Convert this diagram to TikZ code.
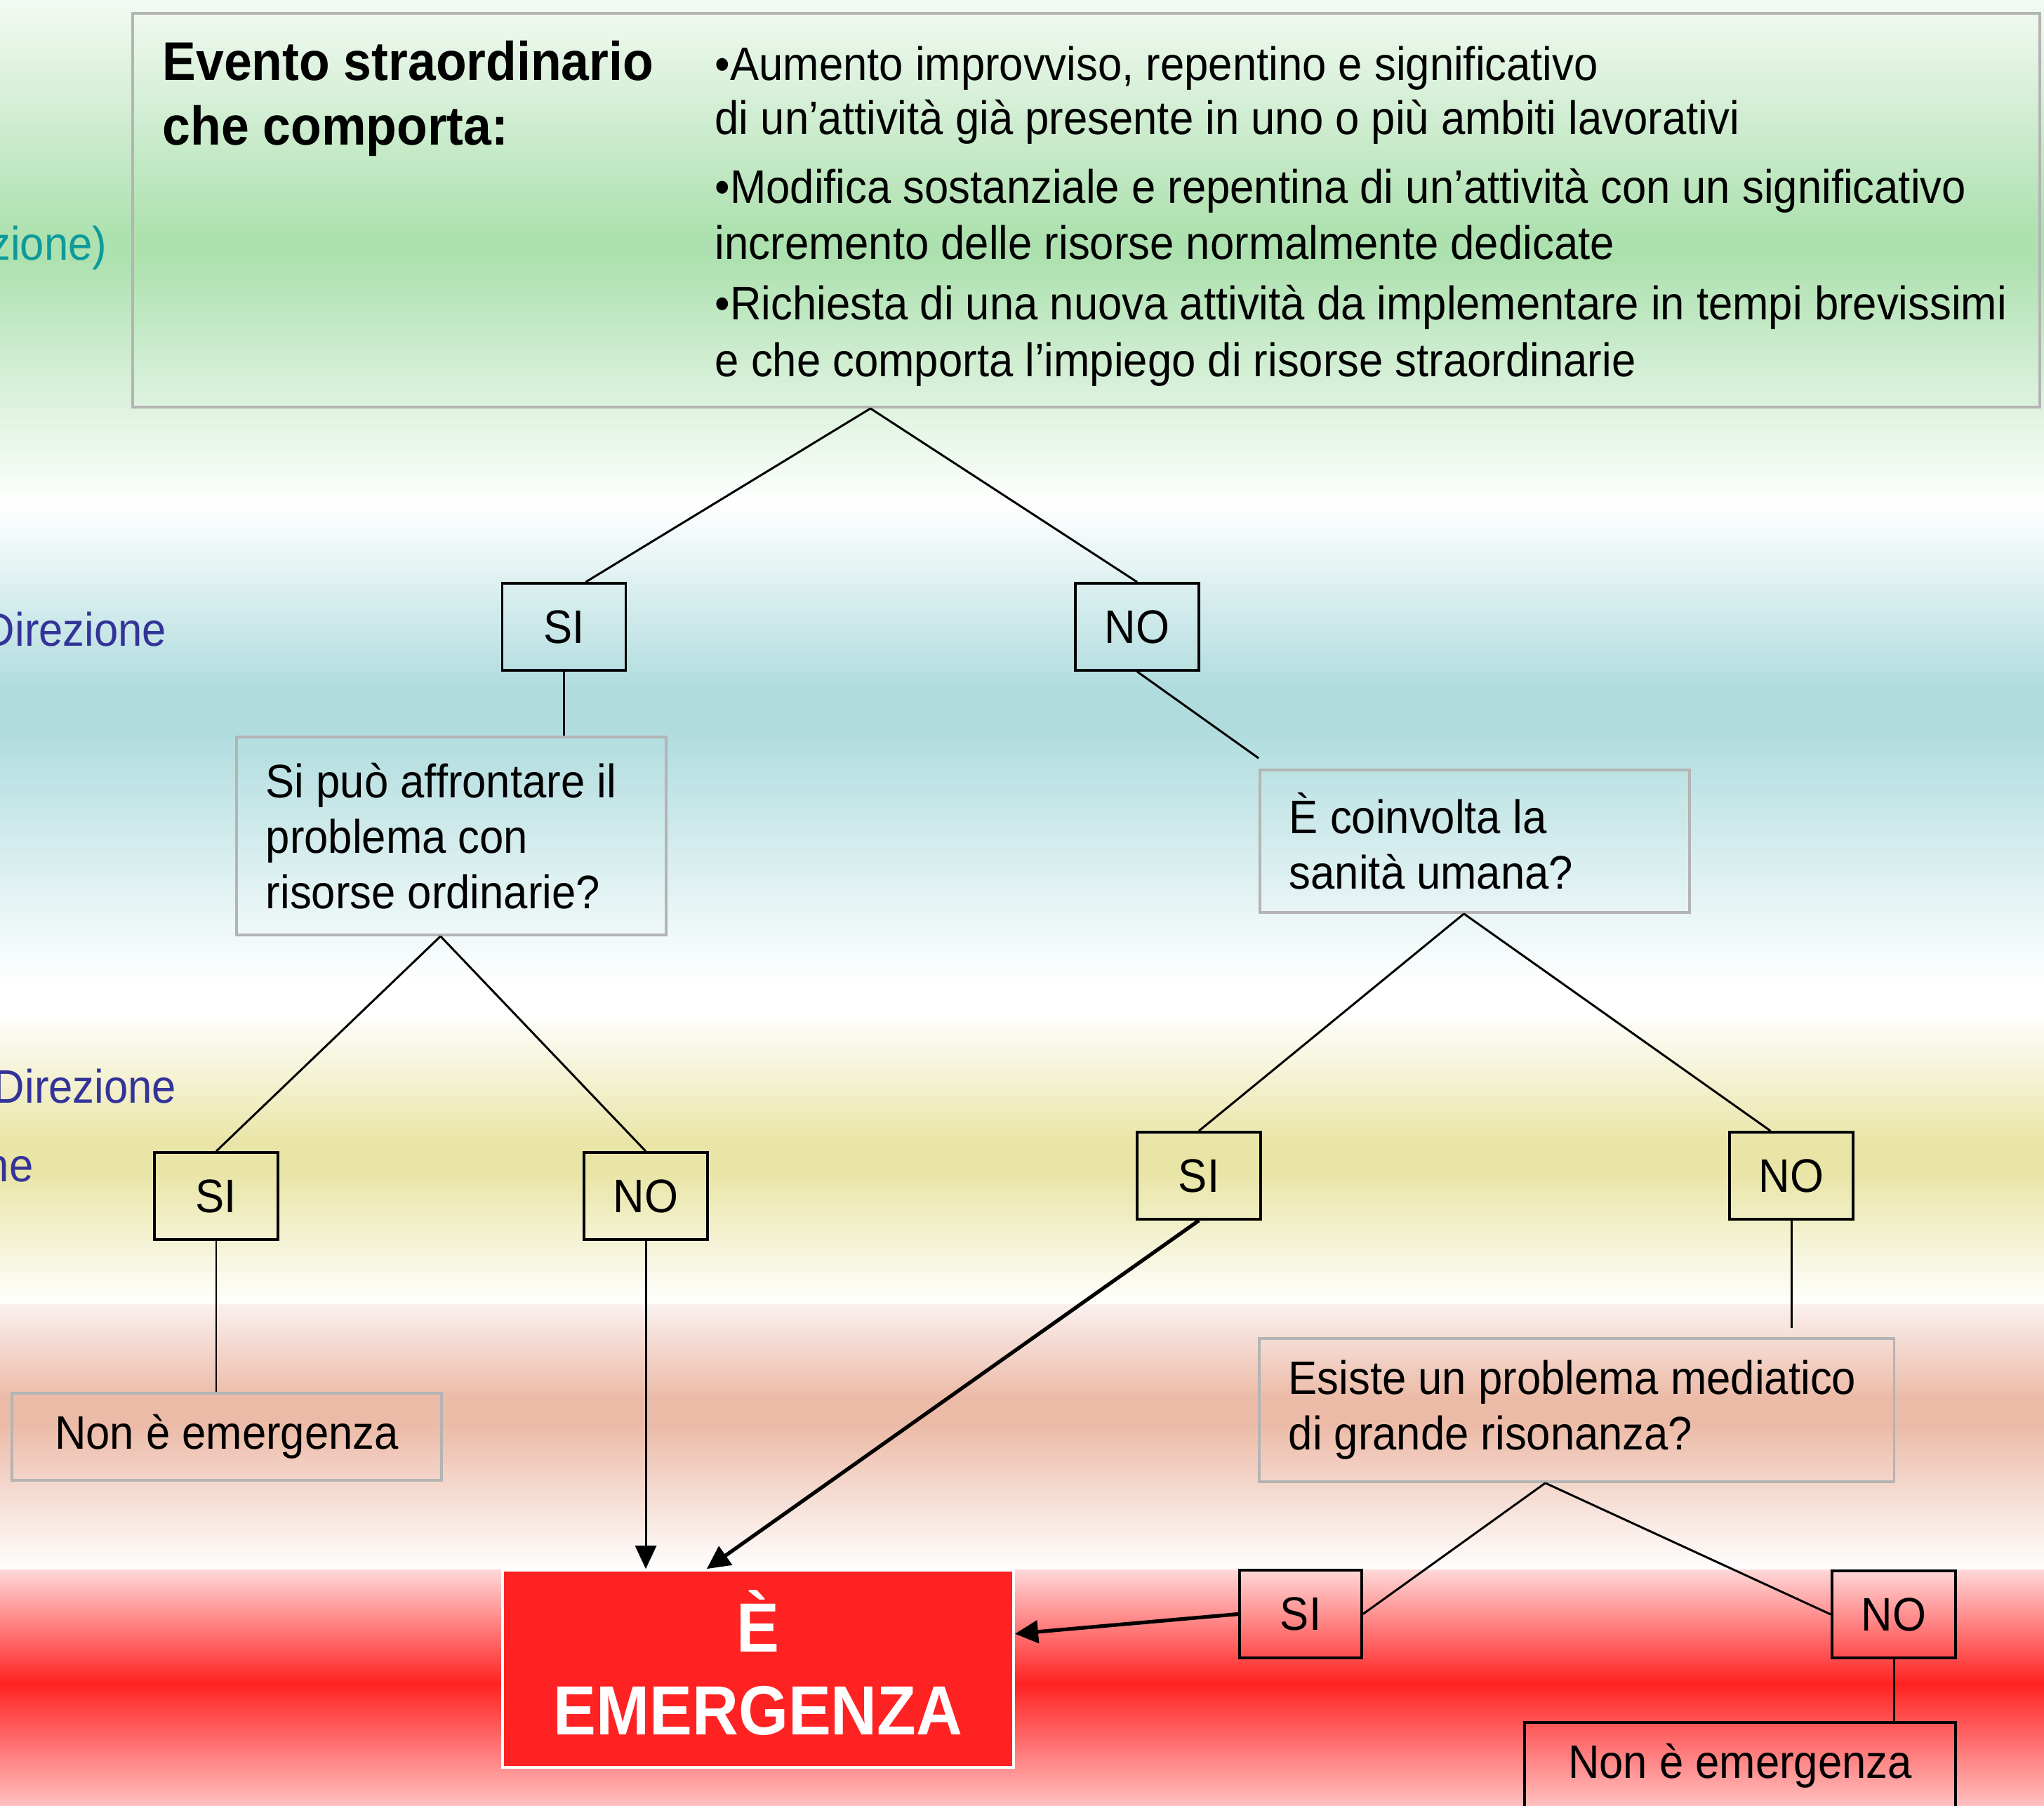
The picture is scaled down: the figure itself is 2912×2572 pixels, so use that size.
\documentclass[tikz,border=0pt]{standalone}
\usepackage{fontspec}
\setmainfont{Liberation Sans}[FakeStretch=0.92]
\usetikzlibrary{arrows.meta,calc}
\definecolor{gtop}{HTML}{F3FAF3}
\definecolor{bgreen}{HTML}{AEE1B0}
\definecolor{bblue}{HTML}{B0DCDE}
\definecolor{byellow}{HTML}{E9E5A6}
\definecolor{salz}{HTML}{FAF0EE}
\definecolor{bsalmon}{HTML}{ECBBA8}
\definecolor{redz}{HTML}{FFD8D8}
\definecolor{bred}{HTML}{FF2222}
\definecolor{redb}{HTML}{FFC0C0}
\definecolor{gborder}{HTML}{B4B4B4}
\definecolor{tealtxt}{HTML}{0E9A9A}
\definecolor{bluetxt}{HTML}{333399}
\definecolor{emerfill}{HTML}{FF2222}
\newcommand\nfont{\fontsize{19.05pt}{22.5pt}\selectfont}
\newcommand\tfont{\bfseries\fontsize{22.1pt}{26.2pt}\selectfont}
\newcommand\efont{\bfseries\fontsize{28.2pt}{33.6pt}\selectfont}
\begin{document}
\begin{tikzpicture}[x=0.01cm,y=-0.01cm,
  txt/.style={inner sep=0pt, anchor=base west, font=\nfont},
  ttl/.style={inner sep=0pt, anchor=base west, font=\tfont},
  lbl/.style={inner sep=0pt, anchor=base east, font=\nfont},
  yn/.style={draw=black, line width=1pt, minimum width=1.76cm, minimum height=1.24cm, inner sep=0pt, font=\nfont},
  qbox/.style={draw=gborder, line width=1pt, align=flush left, inner xsep=0.42cm, inner ysep=0pt, font=\nfont},
  nebox/.style={line width=1pt, align=center, minimum width=6.12cm, minimum height=1.24cm, inner sep=0pt, font=\nfont},
  conn/.style={draw=black, line width=0.85pt},
  arr/.style={draw=black, line width=0.85pt, -{Triangle[length=0.33cm,width=0.3cm]}},
  arrthick/.style={draw=black, line width=1.5pt, -{Triangle[length=0.33cm,width=0.32cm]}}
]
\useasboundingbox (0,0) rectangle (2912,2572);
\clip (0,0) rectangle (2912,2572);
% background bands
\shade[top color=gtop, bottom color=bgreen] (0,0) rectangle (2912,331);
\fill[bgreen] (0,330) rectangle (2912,371);
\shade[top color=bgreen, bottom color=white] (0,370) rectangle (2912,721);
\shade[top color=white, bottom color=bblue] (0,720) rectangle (2912,981);
\fill[bblue] (0,980) rectangle (2912,1041);
\shade[top color=bblue, bottom color=white] (0,1040) rectangle (2912,1401);
\fill[white] (0,1400) rectangle (2912,1441);
\shade[top color=white, bottom color=byellow] (0,1440) rectangle (2912,1631);
\fill[byellow] (0,1630) rectangle (2912,1671);
\shade[top color=byellow, bottom color=white] (0,1670) rectangle (2912,1859);
\shade[top color=salz, bottom color=bsalmon] (0,1858) rectangle (2912,1991);
\fill[bsalmon] (0,1990) rectangle (2912,2031);
\shade[top color=bsalmon, bottom color=white] (0,2030) rectangle (2912,2237);
\shade[top color=redz, bottom color=bred] (0,2236) rectangle (2912,2399);
\shade[top color=bred, bottom color=redb] (0,2398) rectangle (2912,2572);

% left labels (cut off at the page edge, as in the reference)
\node[lbl, text=tealtxt] (lab1) at (153,370) {zione)};
\node[lbl, text=bluetxt] (lab2) at (238,920) {Direzione};
\node[lbl, text=bluetxt] (lab3) at (252,1571) {Direzione};
\node[lbl, text=bluetxt] (lab4) at (48,1683) {ne};

% top box
\node[draw=gborder, line width=1pt, minimum width=27.15cm, minimum height=5.61cm, inner sep=0pt] (top) at (1547.5,299.5) {};
\node[ttl] (t1) at (231,114) {Evento straordinario};
\node[ttl] (t2) at (231,206) {che comporta:};
\node[txt] (b1a) at (1018,114) {•Aumento improvviso, repentino e significativo};
\node[txt] (b1b) at (1018,191) {di un’attività già presente in uno o più ambiti lavorativi};
\node[txt] (b2a) at (1018,289) {•Modifica sostanziale e repentina di un’attività con un significativo};
\node[txt] (b2b) at (1018,369) {incremento delle risorse normalmente dedicate};
\node[txt] (b3a) at (1018,455) {•Richiesta di una nuova attività da implementare in tempi brevissimi};
\node[txt] (b3b) at (1018,536) {e che comporta l’impiego di risorse straordinarie};

% decision boxes
\node[yn] (si1) at (803.5,893) {SI};
\node[yn] (no1) at (1620,893) {NO};
\node[qbox, text width=5.28cm, minimum height=2.82cm] (q1) at (643,1191) {Si può affrontare il\\problema con\\risorse ordinarie?};
\node[qbox, text width=5.28cm, minimum height=2.03cm] (q2) at (2101,1198.5) {È coinvolta la\\sanità umana?};
\node[yn] (si2) at (308,1704) {SI};
\node[yn] (no2) at (920,1704) {NO};
\node[yn] (si3) at (1708,1675) {SI};
\node[yn] (no3) at (2552,1675) {NO};
\node[nebox, draw=gborder] (ne1) at (323,2047) {Non è emergenza};
\node[qbox, text width=8.2cm, minimum height=2.04cm] (q3) at (2246,2009) {Esiste un problema mediatico\\di grande risonanza?};
\node[fill=emerfill, draw=white, line width=1pt, minimum width=7.28cm, minimum height=2.81cm, inner sep=0pt, align=center, text=white, font=\efont] (emer) at (1080,2377.5) {È\\EMERGENZA\rule[-5pt]{0pt}{5pt}};
\node[yn, minimum width=1.74cm, minimum height=1.25cm] (si4) at (1853,2299.5) {SI};
\node[yn] (no4) at (2698,2300) {NO};
\node[nebox, draw=black, minimum width=6.14cm] (ne2) at (2479,2516) {Non è emergenza};

% connectors
\coordinate (topapex) at ($(top.south west)!0.387!(top.south east)$);
\draw[conn] (topapex) -- ($(si1.north west)!0.672!(si1.north east)$);
\draw[conn] (topapex) -- (no1.north);
\draw[conn] (si1.south) -- (si1.south |- q1.north);
\coordinate (q2tip) at ($(q2.north west)+(0,-15)$);
\draw[conn] (no1.south) -- (q2tip);
\coordinate (q1apex) at ($(q1.south west)!0.475!(q1.south east)$);
\draw[conn] (q1apex) -- (si2.north);
\draw[conn] (q1apex) -- (no2.north);
\coordinate (q2apex) at ($(q2.south west)!0.475!(q2.south east)$);
\draw[conn] (q2apex) -- (si3.north);
\draw[conn] (q2apex) -- ($(no3.north west)!0.335!(no3.north east)$);
\draw[conn] (si2.south) -- (si2.south |- ne1.north);
\draw[arr] (no2.south) -- (no2.south |- emer.north);
\draw[arrthick] (si3.south) -- ($(emer.north west)!0.4!(emer.north east)$);
\coordinate (q3tip) at ($(no3.south |- q3.north)+(0,-13)$);
\draw[conn] (no3.south) -- (q3tip);
\coordinate (q3apex) at ($(q3.south west)!0.451!(q3.south east)$);
\draw[conn] (q3apex) -- (si4.east);
\draw[conn] (q3apex) -- (no4.west);
\draw[arrthick] (si4.west) -- ($(emer.north east)!0.325!(emer.south east)$);
\draw[conn] (no4.south) -- (no4.south |- ne2.north);
\end{tikzpicture}
\end{document}
